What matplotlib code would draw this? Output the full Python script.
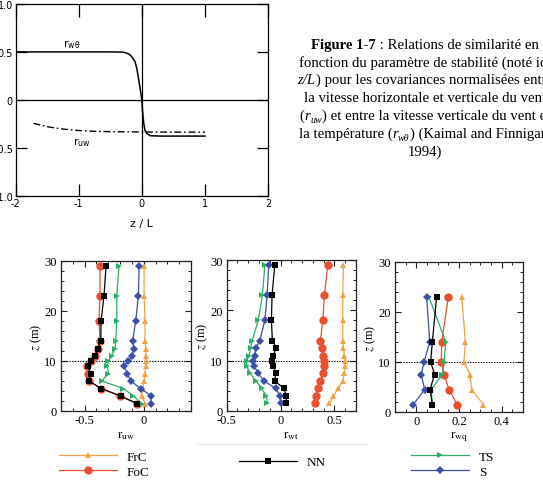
import matplotlib
matplotlib.use('Agg')
import matplotlib.pyplot as plt
from matplotlib.ticker import MultipleLocator, FixedLocator, FixedFormatter
from matplotlib.lines import Line2D
from matplotlib.transforms import IdentityTransform

plt.rcParams['font.family'] = ['Liberation Serif', 'DejaVu Serif']
plt.rcParams['mathtext.fontset'] = 'stix'
plt.rcParams['axes.unicode_minus'] = False

# ---------------- data: top panel (Kaimal & Finnigan curves) ----------------
zl_wt = [-2.0, -1.0, -0.5, -0.3, -0.25, -0.2, -0.16, -0.11, -0.08, -0.06, -0.03,
         0.0, 0.01, 0.03, 0.05, 0.08, 0.13, 0.3, 1.0]
r_wt_curve = [0.5, 0.5, 0.5, 0.498, 0.49, 0.475, 0.45, 0.40, 0.33, 0.25, 0.13,
              0.0, -0.11, -0.245, -0.32, -0.35, -0.374, -0.378, -0.378]
zl_uw = [-1.72, -1.5, -1.25, -1.0, -0.75, -0.5, 0.0, 0.5, 1.0]
r_uw_curve = [-0.245, -0.28, -0.305, -0.32, -0.328, -0.332, -0.335, -0.337, -0.337]
top_xticks = [-2, -1, 0, 1, 2]
top_xlabels = ['-2', '-1', '0', '1', '2']
top_yticks = [1.0, 0.5, 0.0, -0.5, -1.0]
top_ylabels = ['1.0', '0.5', '0', '-0.5', '-1.0']

# ---------------- data: bottom panels ----------------
z_levels = [1.5, 3, 4.5, 6, 7.5, 9, 10, 11, 12.5, 14, 18, 23, 29]
ruw = {
    'FrC': [0.011, -0.017, -0.008, 0.003, 0.011, 0.017, 0.02, 0.02, 0.017, 0.011, 0.011, 0.003, 0.003],
    'FoC': [-0.059, -0.2, -0.361, -0.463, -0.468, -0.482, -0.449, -0.412, -0.389, -0.37, -0.378, -0.37, -0.37],
    'NN':  [-0.059, -0.195, -0.361, -0.463, -0.449, -0.474, -0.446, -0.412, -0.389, -0.364, -0.361, -0.336, -0.319],
    'TS':  [-0.017, -0.087, -0.172, -0.355, -0.299, -0.307, -0.299, -0.271, -0.243, -0.237, -0.228, -0.228, -0.209],
    'S':   [0.062, 0.062, -0.025, -0.11, -0.138, -0.166, -0.13, -0.10, -0.082, -0.093, -0.068, -0.045, -0.039],
}
rwt = {
    'FrC': [0.454, 0.49, 0.537, 0.577, 0.592, 0.598, 0.598, 0.592, 0.583, 0.577, 0.577, 0.577, 0.583],
    'FoC': [0.315, 0.33, 0.346, 0.37, 0.392, 0.407, 0.407, 0.392, 0.386, 0.37, 0.392, 0.407, 0.438],
    'NN':  [0.054, 0.054, 0.029, -0.054, -0.045, -0.07, -0.076, -0.07, -0.039, -0.076, -0.085, -0.079, -0.054],
    'TS':  [-0.124, -0.131, -0.177, -0.229, -0.285, -0.315, -0.315, -0.291, -0.279, -0.263, -0.208, -0.168, -0.146],
    'S':   [0.001, -0.008, -0.045, -0.156, -0.208, -0.248, -0.254, -0.239, -0.23, -0.193, -0.146, -0.125, -0.11],
}
z_q = [1.5, 4.5, 7.5, 10, 14, 23]
rwq = {
    'FrC': [0.314, 0.259, 0.252, 0.223, 0.23, 0.213],
    'FoC': [0.192, 0.153, 0.13, 0.117, 0.119, 0.15],
    'NN':  [0.075, 0.064, 0.086, 0.067, 0.075, 0.095],
    'TS':  [0.075, 0.07, 0.122, 0.13, 0.138, 0.059],
    'S':   [-0.014, 0.039, 0.023, 0.036, 0.063, 0.048],
}
series_order = ['FrC', 'FoC', 'NN', 'TS', 'S']
p1_ticks, p1_labels = [-0.5, 0.0], ['-0.5', '0']
p2_ticks, p2_labels = [-0.5, 0.0, 0.5], ['-0.5', '0', '0.5']
p3_ticks, p3_labels = [0.0, 0.2, 0.4], ['0', '0.2', '0.4']
z_ticks, z_labels = [0, 10, 20, 30], ['0', '10', '20', '30']

styles = {
    'FrC': dict(color='#F4A040', marker='^', ms=4.5, zorder=3),
    'FoC': dict(color='#EA5030', marker='o', ms=6.0, zorder=3),
    'NN':  dict(color='#000000', marker='s', ms=4.8, zorder=5),
    'TS':  dict(color='#2BAE66', marker='>', ms=4.5, zorder=4),
    'S':   dict(color='#3C50AA', marker='D', ms=3.8, zorder=4),
}

W, H = 543, 485
fig = plt.figure(figsize=(W / 100, H / 100), dpi=100)


def box(l, t, r, b):
    return [l / W, 1 - b / H, (r - l) / W, (b - t) / H]


# ---------------- top panel ----------------
ax0 = fig.add_axes(box(15.7, 5, 268, 196.7))
ax0.plot(zl_wt, r_wt_curve, color='k', lw=1.1)
ax0.plot(zl_uw, r_uw_curve, color='k', lw=1.0, dashes=(5, 2, 1.2, 2))
ax0.axhline(0, color='k', lw=0.9)
ax0.axvline(0, color='k', lw=0.9)
ax0.set_xlim(-2, 2)
ax0.set_ylim(-1, 1)
ax0.xaxis.set_major_locator(FixedLocator(top_xticks))
ax0.xaxis.set_major_formatter(FixedFormatter(top_xlabels))
ax0.yaxis.set_major_locator(FixedLocator(top_yticks))
ax0.yaxis.set_major_formatter(FixedFormatter(top_ylabels))
ax0.tick_params(axis='x', direction='in', length=9, width=0.9, top=True, labelsize=7, pad=2,
                labelfontfamily='DejaVu Sans')
ax0.tick_params(axis='y', direction='in', length=8, width=0.9, right=True, labelsize=7, pad=2,
                labelfontfamily='DejaVu Sans')
for s in ax0.spines.values():
    s.set_linewidth(0.9)
ax0.set_xlabel('z / L', fontsize=8, family='DejaVu Sans', labelpad=7)
ax0.text(-1.25, 0.59, r'$\mathregular{r_{w\theta}}$', fontsize=8, family='DejaVu Sans',
         va='center', ha='left')
ax0.text(-1.09, -0.44, r'$\mathregular{r_{uw}}$', fontsize=8, family='DejaVu Sans',
         va='center', ha='left')

# ---------------- bottom panels ----------------
def panel(rect, zs, data, xlim, ticks, labels, xminor, xlabel):
    ax = fig.add_axes(rect)
    lines = {}
    for name in series_order:
        st = styles[name]
        ln, = ax.plot(data[name], zs, color=st['color'], marker=st['marker'], ms=st['ms'],
                      lw=0.9, mew=0, zorder=st['zorder'])
        lines[name] = ln
    ax.axhline(10, color='k', lw=0.8, dashes=(1.2, 1.2), zorder=2)
    ax.set_xlim(*xlim)
    ax.set_ylim(0, 30)
    ax.xaxis.set_major_locator(FixedLocator(ticks))
    ax.xaxis.set_major_formatter(FixedFormatter(labels))
    ax.xaxis.set_minor_locator(MultipleLocator(xminor))
    ax.yaxis.set_major_locator(FixedLocator(z_ticks))
    ax.yaxis.set_major_formatter(FixedFormatter(z_labels))
    ax.yaxis.set_minor_locator(MultipleLocator(2))
    ax.tick_params(which='both', direction='in', top=True, right=True, labelsize=9, color='#222')
    ax.tick_params(which='major', length=4.5, width=0.8)
    ax.tick_params(which='minor', length=2.3, width=0.7)
    ax.tick_params(axis='x', pad=2)
    ax.tick_params(axis='y', pad=3)
    for s in ax.spines.values():
        s.set_linewidth(0.9)
        s.set_color('#222')
    ax.set_ylabel('$z$ (m)', fontsize=9, labelpad=0)
    ax.set_xlabel(xlabel, fontsize=9.5, labelpad=2)
    return ax, lines


ax1, L1 = panel(box(61, 262, 191, 412), z_levels, ruw, (-0.7, 0.4), p1_ticks, p1_labels, 0.1,
                r'$\mathrm{r}_{\mathrm{uw}}$')
ax2, L2 = panel(box(226.7, 261, 356, 412), z_levels, rwt, (-0.5, 0.7), p2_ticks, p2_labels, 0.1,
                r'$\mathrm{r}_{\mathrm{wt}}$')
ax3, L3 = panel(box(395, 263, 523, 413), z_q, rwq, (-0.1, 0.5), p3_ticks, p3_labels, 0.05,
                r'$\mathrm{r}_{\mathrm{wq}}$')

# faint separator under the middle panel
fig.add_artist(Line2D([197 / W, 368 / W], [1 - 445 / H] * 2, transform=fig.transFigure,
                      color='#e4e4e4', lw=0.8))

# ---------------- legends ----------------
legkw = dict(frameon=False, borderpad=0, borderaxespad=0, handlelength=4.4, handletextpad=0.75,
             labelspacing=0.2, fontsize=9.5, loc='center left', numpoints=1)
fig.legend(handles=[L1['FrC'], L1['FoC']], labels=['FrC', 'FoC'],
           bbox_to_anchor=(59 / W, 1 - 465 / H), **legkw)
fig.legend(handles=[L1['NN']], labels=['NN'], bbox_to_anchor=(239 / W, 1 - 463 / H), **legkw)
fig.legend(handles=[L1['TS'], L1['S']], labels=['TS', 'S'],
           bbox_to_anchor=(411 / W, 1 - 465 / H), **legkw)

# ---------------- caption (rich text, centred lines) ----------------
renderer = fig.canvas.get_renderer()
CAP_SIZE = 10.6


def measure(s, **kw):
    t1 = fig.text(0, 0, '|' + s + '|', transform=IdentityTransform(), **kw)
    t2 = fig.text(0, 0, '||', transform=IdentityTransform(), **kw)
    w = t1.get_window_extent(renderer).width - t2.get_window_extent(renderer).width
    t1.remove()
    t2.remove()
    return w


def rich_line(yc, segs, xc=425.0):
    items = []
    total = 0.0
    for s, st in segs:
        kw = dict(fontsize=CAP_SIZE * (0.68 if 'sub' in st else 1.0),
                  fontweight='bold' if 'bold' in st else 'normal',
                  fontstyle='italic' if 'it' in st else 'normal')
        w = measure(s, **kw)
        items.append((s, st, kw, w))
        total += w
    x = xc - total / 2
    ybase = H - (yc + 4.2)
    for s, st, kw, w in items:
        dy = -CAP_SIZE * 100 / 72 * 0.22 if 'sub' in st else 0
        fig.text(x, ybase + dy, s, transform=IdentityTransform(), va='baseline', ha='left', **kw)
        x += w


caption = [
    (45.0, [('Figure 1-7', 'bold'), (' : Relations de similarité en', '')]),
    (62.5, [('fonction du paramètre de stabilité (noté ici', '')]),
    (80.0, [('z/L', 'it'), (') pour les covariances normalisées entre', '')]),
    (98.0, [('la vitesse horizontale et verticale du vent', '')]),
    (116.0, [('(', ''), ('r', 'it'), ('uw', 'it sub'), (') et entre la vitesse verticale du vent et', '')]),
    (134.0, [('la température (', ''), ('r', 'it'), ('wθ', 'it sub'), (') (Kaimal and Finnigan,', '')]),
    (151.5, [('1994)', '')]),
]
for yc, segs in caption:
    rich_line(yc, segs)

fig.savefig('out.png', dpi=100)
